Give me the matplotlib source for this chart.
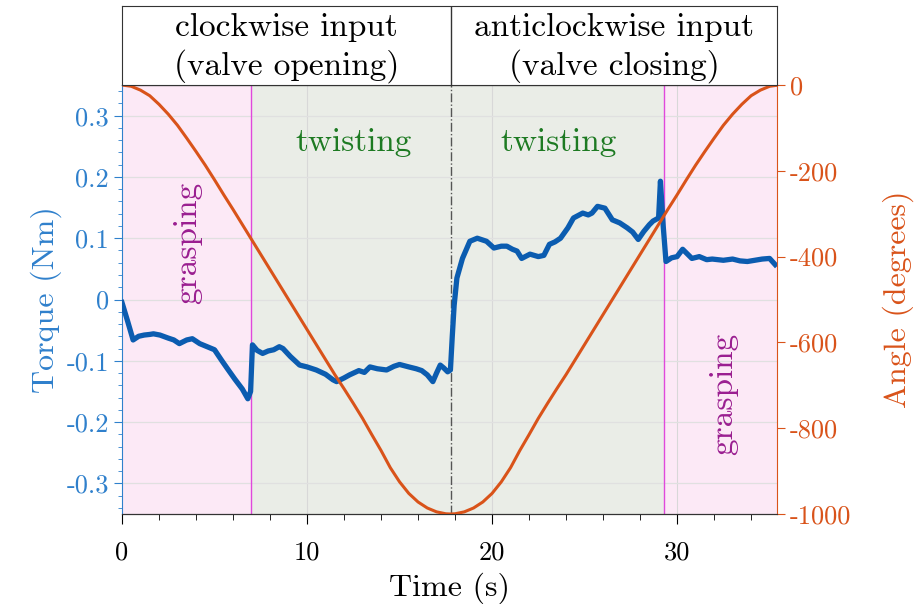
import numpy as np
import matplotlib
matplotlib.use("Agg")
import matplotlib.pyplot as plt

plt.rcParams['font.family'] = ['cmr10', 'DejaVu Serif']
plt.rcParams['mathtext.fontset'] = 'cm'
plt.rcParams['axes.unicode_minus'] = False

# torque measured at the wrist (Nm)
torque_t = [0.0, 0.3, 0.6, 0.9, 1.2, 1.5, 1.7, 2.05, 2.5, 2.8, 3.1, 3.5, 3.8, 4.2, 4.6,
            5.0, 5.4, 5.7, 6.1, 6.5, 6.8, 6.95, 7.05, 7.3, 7.6, 7.9, 8.2, 8.5, 8.7, 9.1,
            9.6, 10.0, 10.5, 11.0, 11.4, 11.6, 12.0, 12.3, 12.8, 13.1, 13.4, 13.8, 14.3,
            14.7, 15.0, 15.5, 15.9, 16.2, 16.5, 16.8, 17.0, 17.2, 17.4, 17.6, 17.75, 17.85,
            17.95, 18.1, 18.4, 18.8, 19.2, 19.7, 20.1, 20.5, 20.8, 21.1, 21.35, 21.6, 22.05,
            22.5, 22.8, 23.1, 23.4, 23.7, 24.1, 24.4, 24.9, 25.2, 25.4, 25.7, 26.1, 26.5,
            26.9, 27.3, 27.6, 27.9, 28.2, 28.5, 28.7, 29.0, 29.1, 29.25, 29.4, 29.7, 30.0,
            30.3, 30.8, 31.2, 31.6, 31.9, 32.5, 33.0, 33.4, 33.8, 34.2, 34.6, 35.0, 35.3]
torque_nm = [-0.005, -0.035, -0.066, -0.060, -0.058, -0.057, -0.056, -0.058, -0.063, -0.066,
             -0.072, -0.066, -0.064, -0.072, -0.077, -0.082, -0.100, -0.113, -0.130, -0.146,
             -0.162, -0.150, -0.074, -0.083, -0.088, -0.084, -0.082, -0.077, -0.080, -0.093,
             -0.107, -0.110, -0.115, -0.122, -0.131, -0.134, -0.128, -0.123, -0.116, -0.119,
             -0.110, -0.113, -0.115, -0.109, -0.106, -0.110, -0.113, -0.116, -0.123, -0.134,
             -0.120, -0.107, -0.112, -0.118, -0.115, -0.060, -0.010, 0.035, 0.067, 0.095,
             0.100, 0.095, 0.084, 0.087, 0.087, 0.082, 0.079, 0.067, 0.074, 0.070, 0.072,
             0.090, 0.094, 0.100, 0.117, 0.133, 0.141, 0.138, 0.141, 0.152, 0.149, 0.130,
             0.125, 0.117, 0.110, 0.098, 0.111, 0.122, 0.128, 0.133, 0.193, 0.120, 0.062,
             0.068, 0.070, 0.082, 0.067, 0.070, 0.065, 0.066, 0.064, 0.066, 0.063, 0.062,
             0.064, 0.066, 0.067, 0.057]

# commanded valve angle (degrees)
angle_t = [0.0, 0.5, 1.0, 1.5, 2.0, 2.5, 3.0, 3.5, 4.0, 4.5, 5.0, 5.5, 6.0, 6.5, 7.0, 7.5,
           8.0, 8.5, 9.0, 9.5, 10.0, 10.5, 11.0, 11.5, 12.0, 12.5, 13.0, 13.5, 14.0, 14.5,
           15.0, 15.5, 16.0, 16.5, 17.0, 17.5, 17.75, 18.0, 18.5, 19.0, 19.5, 20.0, 20.5,
           21.0, 21.5, 22.0, 22.5, 23.0, 23.5, 24.0, 24.5, 25.0, 25.5, 26.0, 26.5, 27.0,
           27.5, 28.0, 28.5, 29.0, 29.5, 30.0, 30.5, 31.0, 31.5, 32.0, 32.5, 33.0, 33.5,
           34.0, 34.5, 35.0, 35.5]
angle_deg = [0, -3, -12, -25, -45, -68, -94, -124, -155, -187, -221, -256, -290, -325, -360,
             -395, -430, -465, -500, -535, -570, -605, -640, -675, -708, -742, -777, -815,
             -852, -892, -925, -952, -972, -986, -995, -999.5, -1000, -999.5, -995, -986,
             -972, -952, -925, -892, -852, -815, -777, -742, -708, -675, -640, -605, -570,
             -535, -500, -465, -430, -395, -360, -325, -290, -256, -221, -187, -155, -124,
             -94, -68, -45, -25, -12, -3, 0]

phase_edges = [0, 6.95, 29.3, 35.4]
direction_change = 17.8

torque_ticks = [-0.3, -0.2, -0.1, 0, 0.1, 0.2, 0.3]
torque_labels = ['-0.3', '-0.2', '-0.1', '0', '0.1', '0.2', '0.3']
angle_ticks = [-1000, -800, -600, -400, -200, 0]
time_ticks = [0, 10, 20, 30]

blue = '#0b5cb0'
blue_axis = '#2f80cc'
orange = '#d9531a'
pink = '#fce9f6'
grey = '#eaede7'
magenta = '#e048dc'

W, H = 915, 604
fig = plt.figure(figsize=(W / 100, H / 100), dpi=100)
L, R, T, B = 122, 777, 85, 514
ax = fig.add_axes([L / W, 1 - B / H, (R - L) / W, (B - T) / H])
ax2 = ax.twinx()
head = fig.add_axes([L / W, 1 - T / H, (R - L) / W, (T - 6) / H])

xmax = phase_edges[-1]

# phase backgrounds
ax.axvspan(phase_edges[0], phase_edges[1], color=pink, lw=0, zorder=0)
ax.axvspan(phase_edges[1], phase_edges[2], color=grey, lw=0, zorder=0)
ax.axvspan(phase_edges[2], phase_edges[3], color=pink, lw=0, zorder=0)
for x in time_ticks[1:]:
    ax.axvline(x, color='#d8d8d8', lw=0.8, zorder=0.5)
for y in torque_ticks:
    ax.axhline(y, color='#e0e0e0', lw=0.9, zorder=0.5)
ax.axvline(phase_edges[1], color=magenta, lw=1.0, zorder=1)
ax.axvline(phase_edges[2], color=magenta, lw=1.0, zorder=1)
ax.axvline(direction_change, color='#555555', lw=1.0, ls='-.', zorder=1)

ax.plot(torque_t, torque_nm, color=blue, lw=3.8, zorder=3, solid_joinstyle='round')
ax2.plot(angle_t, angle_deg, color=orange, lw=2.2, zorder=3)

ax.set_xlim(0, xmax)
ax.set_ylim(-0.35, 0.35)
ax2.set_ylim(-1000, 0)

ax.set_xticks(time_ticks)
ax.set_xticks(np.arange(0, 35, 2), minor=True)
ax.set_yticks(torque_ticks)
ax.set_yticklabels(torque_labels)
ax.set_yticks(np.arange(-0.34, 0.35, 0.02), minor=True)
ax2.set_yticks(angle_ticks)
ax2.set_yticklabels([str(v) for v in angle_ticks])

ax.tick_params(axis='x', which='both', direction='out', labelsize=19, pad=12, colors='black')
ax.tick_params(axis='x', which='major', length=7)
ax.tick_params(axis='x', which='minor', length=4)
ax.tick_params(axis='y', which='both', direction='out', colors=blue_axis, labelsize=19)
ax.tick_params(axis='y', which='major', length=6)
ax.tick_params(axis='y', which='minor', length=3)
ax2.tick_params(axis='y', direction='out', colors=orange, labelsize=19, length=6)

ax.spines['left'].set_color(blue_axis)
ax.spines['right'].set_visible(False)
ax2.spines['left'].set_visible(False)
ax2.spines['right'].set_color(orange)
ax2.spines['top'].set_color('#333333')
ax2.spines['bottom'].set_color('#333333')
ax2.patch.set_visible(False)

ax.set_xlabel('Time (s)', fontsize=23, labelpad=6)
ax.set_ylabel('Torque (Nm)', fontsize=23, color=blue_axis, labelpad=3)
ax2.set_ylabel('Angle (degrees)', fontsize=23, color=orange, labelpad=22)

ax.text(3.55, 0.092, 'grasping', rotation=90, color='#9a1e90', fontsize=24,
        ha='center', va='center', zorder=4)
ax.text(32.5, -0.154, 'grasping', rotation=90, color='#9a1e90', fontsize=24,
        ha='center', va='center', zorder=4)
ax.text(12.5, 0.256, 'twisting', color='#1d7a22', fontsize=24, ha='center', va='center', zorder=4)
ax.text(23.6, 0.256, 'twisting', color='#1d7a22', fontsize=24, ha='center', va='center', zorder=4)

# header boxes
head.set_xlim(0, xmax)
head.set_ylim(0, 1)
head.set_xticks([])
head.set_yticks([])
for s in head.spines.values():
    s.set_color('#333333')
head.axvline(direction_change, color='#333333', lw=1.0)
head.text(direction_change / 2, 0.73, 'clockwise input', fontsize=24, ha='center', va='center')
head.text(direction_change / 2, 0.24, '(valve opening)', fontsize=24, ha='center', va='center')
head.text((direction_change + xmax) / 2, 0.73, 'anticlockwise input', fontsize=24,
          ha='center', va='center')
head.text((direction_change + xmax) / 2, 0.24, '(valve closing)', fontsize=24,
          ha='center', va='center')

fig.savefig('out.png', dpi=100)
